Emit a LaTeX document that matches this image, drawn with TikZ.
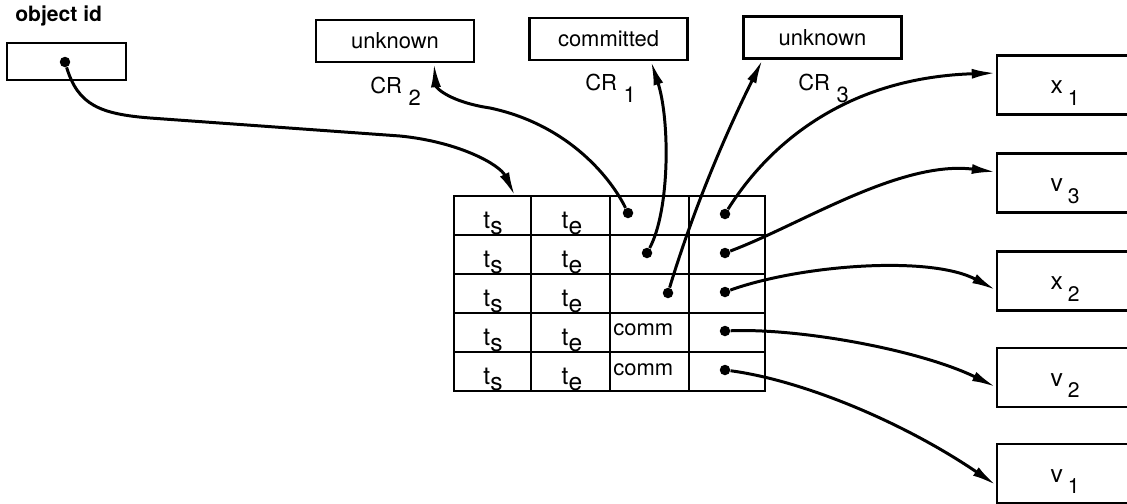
\documentclass[tikz,border=0pt]{standalone}
\usepackage{fontspec}
\setmainfont{TeX Gyre Heros}
\usetikzlibrary{arrows.meta}
\newcommand{\lo}[1]{\raisebox{-0.5ex}{#1}}
\newcommand{\crsub}[1]{\hspace{0.3em}\raisebox{-1.1ex}{#1}}
\newcommand{\valsub}[1]{\hspace{0.2em}\raisebox{-6.5pt}{\fontsize{12}{14}\selectfont #1}}

\begin{document}
\begin{tikzpicture}[x=0.02cm, y=-0.02cm, font=\fontsize{12.5}{15}\selectfont,
        >={Latex[length=0.48cm,width=0.2cm]},
        box/.style={draw, line width=1.4pt, inner sep=0pt},
        crbox/.style={box, minimum width=3.16cm, minimum height=0.84cm},
        valbox/.style={box, minimum width=2.72cm, minimum height=1.18cm,
            text height=10pt, text depth=0pt, font=\fontsize{14}{16}\selectfont},
        link/.style={->, line width=1.7pt},
        dot/.style={circle, fill, inner sep=0pt, minimum size=0.21cm},
        tab/.style={line width=1.1pt},
        lbl/.style={inner sep=0pt},
        cell/.style={lbl, anchor=base, font=\fontsize{14}{16}\selectfont}]
        \useasboundingbox (0,0) rectangle (1127,504);
        \node[lbl, anchor=base west, font=\fontsize{12}{14}\selectfont\bfseries] (oidlabel) at (15,21) {object id};
        \node[box, minimum width=2.38cm, minimum height=0.74cm] (oid) at (66.5,61.5) {};
        \node[dot] (oiddot) at (65,62) {};

        \node[crbox] (cr2) at (395,41) {unknown};
        \node[crbox] (cr1) at (608.5,39) {committed};
        \node[crbox] (cr3) at (822.5,37.5) {unknown};
        \node[lbl, anchor=base west] (cr2label) at (370,93) {CR\crsub{2}};
        \node[lbl, anchor=base west] (cr1label) at (585,90) {CR\crsub{1}};
        \node[lbl, anchor=base west] (cr3label) at (798,90) {CR\crsub{3}};

        \draw[tab] (454,196) rectangle (765,391);
        \foreach \x in {531,610,689} \draw[tab] (\x,196) -- (\x,391);
        \foreach \y in {235,274,313,352} \draw[tab] (454,\y) -- (765,\y);
        \foreach \y [count=\i] in {196,235,274,313,352} {
            \node[cell] (ts\i) at (493,\y+32) {t\lo{s}};
            \node[cell] (te\i) at (572,\y+32) {t\lo{e}};
            \node[dot] (ptr\i) at (725,\y+18) {};
        }
        \node[lbl, anchor=base west] (comm4) at (613,335) {comm};
        \node[lbl, anchor=base west] (comm5) at (613,375) {comm};
        \node[dot] (st1) at (628,213) {};
        \node[dot] (st2) at (647,253) {};
        \node[dot] (st3) at (668,293) {};
        \coordinate (entry) at (515,196);

        \node[valbox] (x1) at (1065,85) {x\valsub{1}};
        \node[valbox] (v3) at (1065,183) {v\valsub{3}};
        \node[valbox] (x2) at (1065,281) {x\valsub{2}};
        \node[valbox] (v2) at (1065,377.5) {v\valsub{2}};
        \node[valbox] (v1) at (1065,473.5) {v\valsub{1}};

        \draw[link] (oiddot) .. controls (78,105) and (100,114) .. (150,118) -- (400,136)
            .. controls (460,142) and (500,165) .. (entry);
        \draw[link] (st1) .. controls (612,180) and (570,125) .. (490,108)
            .. controls (450,102) and (436,88) .. ([xshift=0.78cm]cr2.south);
        \draw[link] (st2) .. controls (670,210) and (670,120) .. ([xshift=0.85cm]cr1.south);
        \draw[link] (st3) .. controls (690,220) and (720,145) .. ([xshift=-1.2cm]cr3.south);
        \draw[link] (ptr1) .. controls (765,150) and (840,78) .. ([yshift=0.24cm]x1.west);
        \draw[link] (ptr2) .. controls (800,225) and (900,160) .. ([yshift=0.22cm]v3.west);
        \draw[link] (ptr3) .. controls (800,265) and (930,255) .. ([yshift=-0.18cm]x2.west);
        \draw[link] (ptr4) .. controls (800,328) and (920,350) .. ([yshift=-0.19cm]v2.west);
        \draw[link] (ptr5) .. controls (800,380) and (900,420) .. ([yshift=-0.23cm]v1.west);
\end{tikzpicture}
\end{document}
